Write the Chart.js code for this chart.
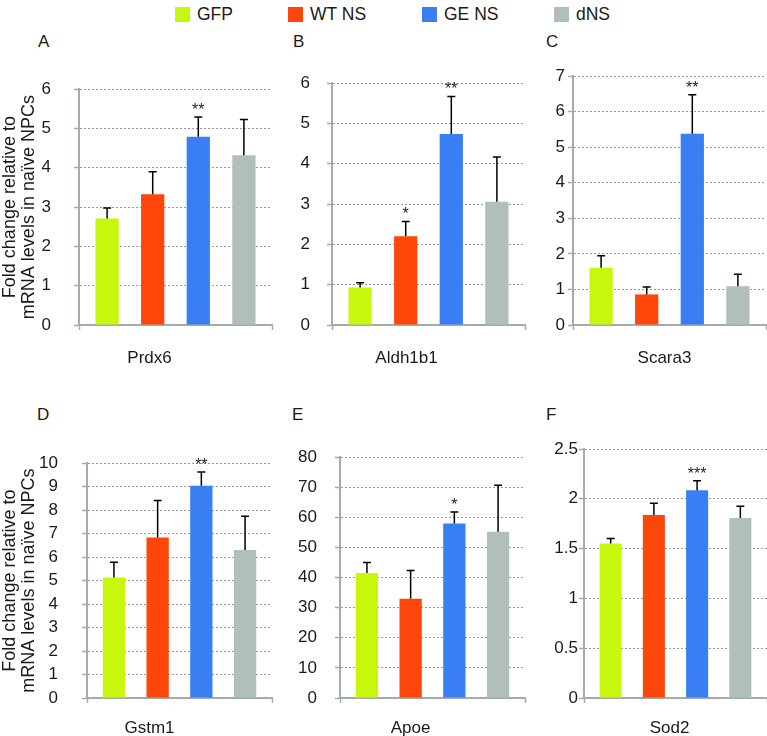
<!DOCTYPE html>
<html>
<head>
<meta charset="utf-8">
<script src="https://cdn.jsdelivr.net/npm/chart.js@4.4.1/dist/chart.umd.min.js"></script>
<style>
  body { margin: 0; background: #fff; overflow: hidden; font-family: "Liberation Sans", Arial, sans-serif; color: #1a1a1a; }
  #fig { position: relative; width: 767px; height: 736px; }
  .panel { position: absolute; }
  .letter { position: absolute; font-size: 17px; line-height: 17px; }
  .key { position: absolute; top: 6px; height: 17px; font-size: 17.5px; line-height: 17px; white-space: nowrap; }
  .key span.sw { position: absolute; left: 0; top: 1px; width: 15px; height: 15px; }
  .key span.tx { position: absolute; left: 22px; top: 0; }
</style>
</head>
<body>
<div id="fig"></div>
<script>
// groups shown as bars in every panel
const groups = ['GFP', 'WT NS', 'GE NS', 'dNS'];
const genes = ['Prdx6', 'Aldh1b1', 'Scara3', 'Gstm1', 'Apoe', 'Sod2'];
const panelLetters = ['A', 'B', 'C', 'D', 'E', 'F'];

// mean fold change and error (upper bar length)
const prdx6Mean = [2.71, 3.33, 4.79, 4.32];
const prdx6Err = [0.27, 0.57, 0.50, 0.91];
const aldh1b1Mean = [0.93, 2.20, 4.74, 3.06];
const aldh1b1Err = [0.12, 0.37, 0.93, 1.11];
const scara3Mean = [1.61, 0.86, 5.38, 1.09];
const scara3Err = [0.34, 0.21, 1.09, 0.34];
const gstm1Mean = [5.13, 6.84, 9.04, 6.30];
const gstm1Err = [0.65, 1.57, 0.59, 1.44];
const apoeMean = [41.5, 33.0, 58.0, 55.2];
const apoeErr = [3.5, 9.4, 3.8, 15.5];
const sod2Mean = [1.551, 1.838, 2.086, 1.808];
const sod2Err = [0.05, 0.117, 0.094, 0.117];

// significance marks
const prdx6Sig = ['', '', '**', ''];
const aldh1b1Sig = ['', '*', '**', ''];
const scara3Sig = ['', '', '**', ''];
const gstm1Sig = ['', '', '**', ''];
const apoeSig = ['', '', '*', ''];
const sod2Sig = ['', '', '***', ''];

// y axis ranges
const yMax = [6, 6, 7, 10, 80, 2.5];
const yStep = [1, 1, 1, 1, 10, 0.5];

const yTitle = ['Fold change relative to', 'mRNA levels in naïve NPCs'];

const means = [prdx6Mean, aldh1b1Mean, scara3Mean, gstm1Mean, apoeMean, sod2Mean];
const errs = [prdx6Err, aldh1b1Err, scara3Err, gstm1Err, apoeErr, sod2Err];
const sigs = [prdx6Sig, aldh1b1Sig, scara3Sig, gstm1Sig, apoeSig, sod2Sig];

const colors = ['#c6f70c', '#fd4609', '#3a7ef4', '#b1bfbc'];
const axisGray = '#a3abab';
const textColor = '#1a1a1a';
const font = '"Liberation Sans", Arial, sans-serif';

// page placement of each panel (pixels)
const boxes = [
  { left: 0,   axis: 79,  right: 272, top: 56,  plotTop: 77,  plotBottom: 325, bottom: 376, tickPad: 23, catPad: 18, catShift: -26, title: true },
  { left: 272, axis: 332, right: 525, top: 56,  plotTop: 77,  plotBottom: 325, bottom: 376, tickPad: 17, catPad: 18, catShift: -22 },
  { left: 525, axis: 573, right: 766, top: 56,  plotTop: 76,  plotBottom: 325, bottom: 376, tickPad: 3,  catPad: 18, catShift: -5 },
  { left: 0,   axis: 87,  right: 272, top: 429, plotTop: 449, plotBottom: 698, bottom: 736, tickPad: 24, catPad: 15, catShift: -30, title: true },
  { left: 272, axis: 340, right: 525, top: 429, plotTop: 449, plotBottom: 698, bottom: 736, tickPad: 18, catPad: 15, catShift: -22 },
  { left: 525, axis: 584, right: 767, top: 429, plotTop: 449, plotBottom: 698, bottom: 736, tickPad: 1,  catPad: 15, catShift: -6 }
];
const letterPos = [[38, 33], [293, 33], [546, 33], [37, 406], [292, 406], [546, 406]];
const keyLeft = [175, 288, 422, 554];

const fig = document.getElementById('fig');

// shared legend
groups.forEach((g, i) => {
  const d = document.createElement('div');
  d.className = 'key';
  d.style.left = keyLeft[i] + 'px';
  d.innerHTML = `<span class="sw" style="background:${colors[i]}"></span><span class="tx">${g}</span>`;
  fig.appendChild(d);
});

// error bars and significance stars
const errorBars = {
  id: 'errorBars',
  afterDatasetsDraw(chart, args, opts) {
    const { ctx } = chart;
    const y = chart.scales.y;
    ctx.save();
    chart.data.datasets.forEach((ds, i) => {
      const bar = chart.getDatasetMeta(i).data[0];
      const top = y.getPixelForValue(ds.data[0] + opts.err[i]);
      ctx.strokeStyle = '#000';
      ctx.lineWidth = 1.5;
      ctx.beginPath();
      ctx.moveTo(bar.x, bar.y);
      ctx.lineTo(bar.x, top);
      ctx.moveTo(bar.x - 4, top);
      ctx.lineTo(bar.x + 4, top);
      ctx.stroke();
      if (opts.sig[i]) {
        ctx.fillStyle = '#222';
        ctx.font = '16px ' + font;
        ctx.textAlign = 'center';
        ctx.textBaseline = 'alphabetic';
        ctx.fillText(opts.sig[i], bar.x, top - 2);
      }
    });
    ctx.restore();
  }
};

boxes.forEach((b, p) => {
  const letter = document.createElement('div');
  letter.className = 'letter';
  letter.style.left = letterPos[p][0] + 'px';
  letter.style.top = letterPos[p][1] + 'px';
  letter.textContent = panelLetters[p];
  fig.appendChild(letter);

  const wrap = document.createElement('div');
  wrap.className = 'panel';
  const w = b.right - b.left + 2;
  const h = b.bottom - b.top;
  wrap.style.left = b.left + 'px';
  wrap.style.top = b.top + 'px';
  const canvas = document.createElement('canvas');
  canvas.width = w;
  canvas.height = h;
  wrap.appendChild(canvas);
  fig.appendChild(wrap);

  new Chart(canvas.getContext('2d'), {
    type: 'bar',
    data: {
      labels: [genes[p]],
      datasets: groups.map((g, i) => ({
        label: g,
        data: [means[p][i]],
        backgroundColor: colors[i],
        borderWidth: 0,
        categoryPercentage: 0.945,
        barPercentage: 0.51
      }))
    },
    options: {
      responsive: false,
      animation: false,
      devicePixelRatio: 1,
      layout: { padding: { left: 0, right: 2, top: b.plotTop - b.top, bottom: 0 } },
      plugins: {
        legend: { display: false },
        tooltip: { enabled: false },
        errorBars: { err: errs[p], sig: sigs[p] }
      },
      scales: {
        x: {
          grid: { display: true, drawOnChartArea: false, drawTicks: true, tickLength: 5, tickColor: axisGray, tickWidth: 1.5 },
          border: { color: axisGray, width: 2 },
          ticks: { color: textColor, padding: b.catPad, labelOffset: b.catShift, font: { family: font, size: 17 } },
          afterFit(scale) { scale.height = b.bottom - b.plotBottom; }
        },
        y: {
          min: 0,
          max: yMax[p],
          ticks: {
            stepSize: yStep[p],
            color: textColor,
            padding: b.tickPad,
            font: { family: font, size: 17 },
            callback: (v) => String(v)
          },
          grid: { color: '#9a9a9a', lineWidth: 1, drawTicks: true, tickLength: 5, tickColor: axisGray, tickWidth: 1.5, tickBorderDash: [] },
          border: { color: axisGray, width: 2, dash: [2, 2] },
          title: {
            display: !!b.title,
            text: yTitle,
            color: textColor,
            padding: 0,
            font: { family: font, size: 18, lineHeight: 1.06 }
          },
          afterFit(scale) { scale.width = b.axis - b.left; }
        }
      }
    },
    plugins: [errorBars]
  });
});
</script>
</body>
</html>
